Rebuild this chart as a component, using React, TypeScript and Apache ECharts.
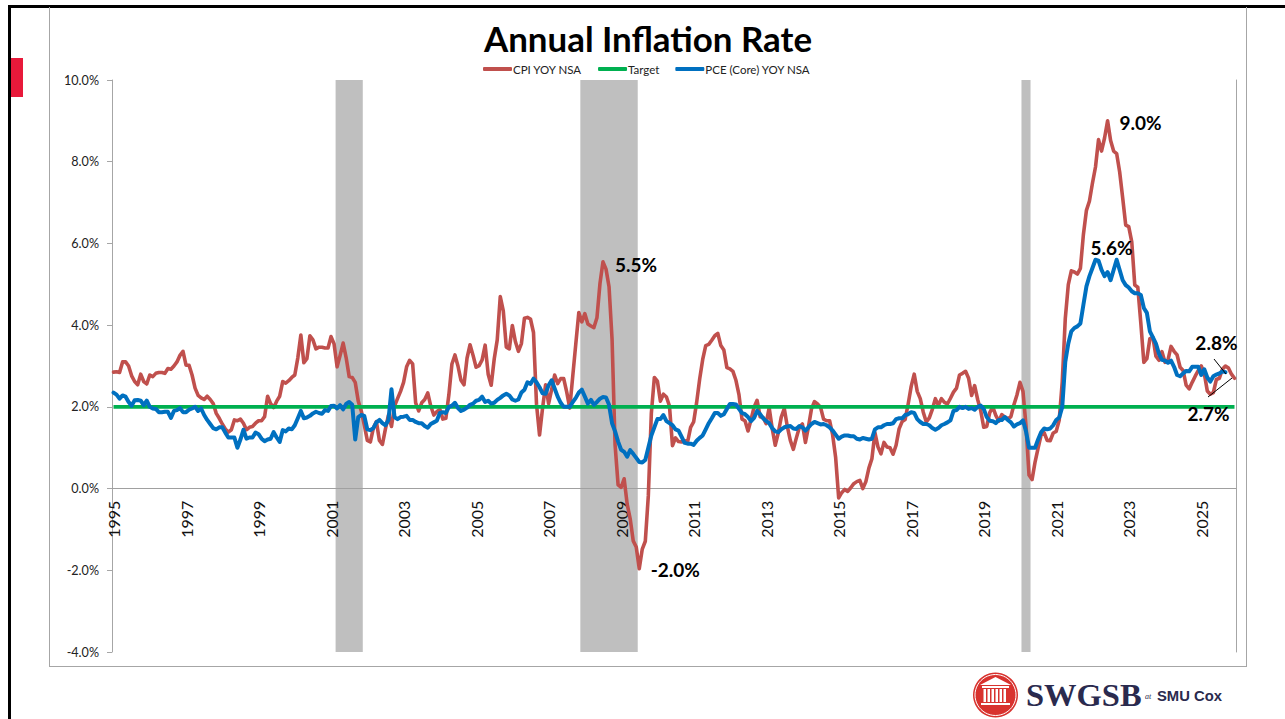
import React, { useEffect, useRef } from "react";
import * as echarts from "echarts";

const startYear = 1995;
const yearCount = 31;
const monthNames = ["01", "02", "03", "04", "05", "06", "07", "08", "09", "10", "11", "12"];
const categories: string[] = [];
for (let y = 0; y < yearCount; y++) for (const m of monthNames) categories.push(`${startYear + y}-${m}`);

const cpiYoy = [
  2.85, 2.86, 2.84, 3.1, 3.1, 3.0, 2.76, 2.62, 2.54, 2.8, 2.62, 2.56,
  2.78, 2.74, 2.82, 2.84, 2.84, 2.82, 2.94, 2.92, 3.0, 3.1, 3.26, 3.36,
  3.02, 3.02, 2.78, 2.46, 2.28, 2.22, 2.18, 2.26, 2.18, 2.08, 1.84, 1.72,
  1.58, 1.46, 1.38, 1.44, 1.68, 1.66, 1.7, 1.6, 1.44, 1.5, 1.52, 1.6,
  1.66, 1.66, 1.76, 2.26, 2.08, 1.98, 2.14, 2.26, 2.62, 2.58, 2.64, 2.72,
  2.78, 3.2, 3.76, 3.08, 3.18, 3.74, 3.64, 3.42, 3.46, 3.46, 3.44, 3.44,
  3.72, 3.54, 2.98, 3.26, 3.56, 3.2, 2.74, 2.72, 2.6, 2.14, 1.9, 1.55,
  1.18, 1.14, 1.48, 1.64, 1.18, 1.08, 1.46, 1.8, 1.52, 2.02, 2.2, 2.38,
  2.6, 2.98, 3.14, 3.05, 2.1, 1.9, 2.1, 2.18, 2.34, 2.02, 1.8, 1.88,
  1.94, 1.7, 1.72, 2.3, 3.05, 3.27, 3.0, 2.65, 2.54, 3.19, 3.52, 3.26,
  2.97, 3.01, 3.15, 3.51, 2.8, 2.53, 3.17, 3.64, 4.7, 4.35, 3.46, 3.42,
  3.99, 3.6, 3.36, 3.55, 4.17, 4.19, 4.15, 3.82, 2.06, 1.31, 1.97, 2.54,
  2.08, 2.42, 2.78, 2.57, 2.69, 2.69, 2.36, 1.97, 2.76, 3.54, 4.31, 4.08,
  4.28, 4.03, 3.98, 3.94, 4.18, 5.02, 5.55, 5.37, 4.94, 3.66, 1.07, 0.09,
  0.03, 0.24, -0.38, -0.74, -1.28, -1.43, -1.96, -1.48, -1.29, -0.18, 1.84, 2.72,
  2.63, 2.14, 2.31, 2.24, 2.02, 1.05, 1.24, 1.15, 1.14, 1.17, 1.14, 1.5,
  1.63, 2.11, 2.68, 3.16, 3.5, 3.53, 3.63, 3.74, 3.8, 3.5, 3.39, 2.96,
  2.93, 2.87, 2.65, 2.3, 1.7, 1.66, 1.41, 1.69, 1.99, 2.16, 1.76, 1.74,
  1.59, 1.98, 1.47, 1.06, 1.36, 1.75, 1.96, 1.52, 1.18, 0.96, 1.24, 1.5,
  1.58, 1.13, 1.51, 1.95, 2.13, 2.07, 1.99, 1.7, 1.66, 1.66, 1.32, 0.76,
  -0.23, -0.1, -0.02, -0.07, 0.02, 0.12, 0.17, 0.2, 0.0, 0.17, 0.5, 0.73,
  1.37, 1.02, 0.85, 1.13, 1.02, 1.0, 0.84, 1.06, 1.46, 1.64, 1.69, 2.07,
  2.5, 2.8, 2.38, 2.2, 1.87, 1.63, 1.73, 1.94, 2.2, 2.04, 2.2, 2.11,
  2.07, 2.21, 2.36, 2.46, 2.78, 2.82, 2.87, 2.7, 2.28, 2.52, 2.18, 1.91,
  1.5, 1.52, 1.86, 2.0, 1.79, 1.65, 1.81, 1.75, 1.71, 1.76, 2.05, 2.29,
  2.6, 2.38, 1.54, 0.33, 0.22, 0.65, 0.99, 1.31, 1.37, 1.18, 1.17, 1.36,
  1.4, 1.68, 2.62, 4.16, 4.99, 5.33, 5.3, 5.25, 5.39, 6.22, 6.81, 7.04,
  7.48, 7.87, 8.54, 8.26, 8.58, 9.0, 8.52, 8.26, 8.2, 7.75, 7.11, 6.45,
  6.41, 6.04, 4.98, 4.93, 4.05, 3.09, 3.18, 3.67, 3.7, 3.24, 3.14, 3.35,
  3.09, 3.15, 3.48, 3.36, 3.27, 2.97, 2.89, 2.53, 2.44, 2.6, 2.75, 2.89,
  3.0, 2.82, 2.39, 2.31, 2.35, 2.67, 2.7, 2.92, 3.0, 2.95, 2.8, 2.7,
];

const pceCoreYoy = [
  2.35, 2.3, 2.2, 2.28, 2.25, 2.12, 2.03, 2.16, 2.17, 2.15, 2.04, 2.15,
  2.0, 1.96, 1.95, 1.87, 1.87, 1.88, 1.88, 1.73, 1.9, 1.92, 1.97, 1.87,
  1.87, 1.93, 1.96, 2.0, 1.9, 1.96, 1.8, 1.68, 1.58, 1.48, 1.45, 1.5,
  1.5, 1.37, 1.25, 1.25, 1.25, 1.0, 1.2, 1.44, 1.22, 1.25, 1.25, 1.37,
  1.33, 1.22, 1.16, 1.2, 1.22, 1.38, 1.25, 1.14, 1.43, 1.4, 1.47, 1.45,
  1.55, 1.72, 1.9, 1.72, 1.74, 1.78, 1.84, 1.88, 1.85, 1.83, 1.92, 1.9,
  2.02, 2.03, 1.96, 2.04, 1.94, 2.07, 2.12, 2.05, 1.2, 1.75, 1.8, 1.78,
  1.45, 1.43, 1.48, 1.62, 1.68, 1.6, 1.55, 1.68, 2.43, 1.75, 1.7, 1.75,
  1.76, 1.78, 1.68, 1.68, 1.63, 1.6, 1.6, 1.53, 1.49, 1.58, 1.62, 1.66,
  1.85, 1.87, 1.85, 2.0, 2.03, 2.1, 1.97, 1.9, 1.93, 1.98, 2.05, 2.08,
  2.15, 2.17, 2.25, 2.12, 2.15, 2.08, 2.1, 2.17, 2.22, 2.28, 2.32, 2.28,
  2.18, 2.15, 2.18, 2.35, 2.42, 2.6, 2.56, 2.69, 2.6, 2.48, 2.33, 2.32,
  2.53, 2.65, 2.45, 2.25, 2.1, 2.0, 2.0, 2.0, 2.12, 2.22, 2.35, 2.42,
  2.25, 2.08, 2.17, 2.05, 2.12, 2.2, 2.24, 2.23, 2.05, 1.6, 1.4, 1.15,
  0.95, 0.9, 0.78, 0.94, 0.85, 0.75, 0.65, 0.64, 0.7, 1.0, 1.3, 1.5,
  1.7, 1.7, 1.8, 1.65, 1.6, 1.55, 1.45, 1.42, 1.27, 1.12, 1.1, 1.1,
  1.07, 1.17, 1.24, 1.3, 1.45, 1.6, 1.72, 1.85, 1.85, 1.78, 1.82, 1.95,
  2.07, 2.07, 2.06, 1.95, 1.85, 1.82, 1.75, 1.65, 1.73, 1.9, 1.82, 1.72,
  1.65, 1.6, 1.48, 1.4, 1.38, 1.45, 1.5, 1.52, 1.53, 1.47, 1.46, 1.53,
  1.5, 1.42, 1.5, 1.58, 1.63, 1.6, 1.57, 1.58, 1.55, 1.5, 1.42, 1.32,
  1.22, 1.27, 1.3, 1.3, 1.28, 1.28, 1.22, 1.2, 1.24, 1.22, 1.2, 1.22,
  1.45, 1.5, 1.5, 1.55, 1.58, 1.58, 1.6, 1.7, 1.72, 1.72, 1.8, 1.82,
  1.87, 1.85, 1.7, 1.63, 1.58, 1.58, 1.55, 1.48, 1.44, 1.48, 1.55, 1.58,
  1.62, 1.67, 1.9, 1.92, 2.0, 1.97, 2.0, 1.95, 1.97, 1.93, 2.0, 2.03,
  1.95, 1.75, 1.66, 1.65, 1.6, 1.68, 1.68, 1.75, 1.68, 1.62, 1.52, 1.57,
  1.6, 1.67, 1.4, 1.0, 1.0, 1.0, 1.2, 1.38, 1.47, 1.45, 1.47, 1.55,
  1.68, 1.74, 2.0, 3.1, 3.55, 3.85, 3.93, 3.97, 4.04, 4.5, 4.95, 5.2,
  5.4, 5.6, 5.58, 5.35, 5.2, 5.3, 5.1, 5.35, 5.6, 5.35, 5.1, 4.98,
  4.92, 4.83, 4.78, 4.78, 4.74, 4.42, 4.3, 3.85, 3.7, 3.55, 3.3, 3.15,
  3.13, 3.08, 3.13, 2.98, 2.78, 2.75, 2.82, 2.88, 2.87, 2.98, 2.98, 2.98,
  2.78, 2.92, 2.72, 2.62, 2.75, 2.79, 2.82, 2.87, 2.85,
];

const targetRate = 2;
const recessions = [
  ["2001-03", "2001-11"],
  ["2007-12", "2009-06"],
  ["2020-02", "2020-04"],
];
const yTickMin = -4;
const yTickMax = 10;
const yTickStep = 2;

const callouts = [
  { series: "cpi", month: "2022-06", value: 9.0, text: "9.0%", dx: 33, dy: 2 },
  { series: "cpi", month: "2008-07", value: 5.55, text: "5.5%", dx: 33, dy: 3 },
  { series: "cpi", month: "2009-07", value: -1.96, text: "-2.0%", dx: 36, dy: 1 },
  { series: "cpi", month: "2025-12", value: 2.7, text: "2.7%", dx: -26, dy: 35 },
  { series: "pce", month: "2022-02", value: 5.6, text: "5.6%", dx: 16, dy: -12 },
  { series: "pce", month: "2025-09", value: 2.85, text: "2.8%", dx: -9, dy: -30 },
];

const RED = "#C0504D";
const GREEN = "#00B050";
const BLUE = "#0070C0";
const AXIS = "#A6A6A6";
const FONT = "Lato, 'Liberation Sans', Arial, sans-serif";
const NAVY = "#2A2A4E";
const LOGO_RED = "#D8322E";

function markFor(name: string) {
  return {
    symbol: "circle",
    symbolSize: 1,
    itemStyle: { color: "rgba(0,0,0,0)" },
    silent: true,
    data: callouts
      .filter((c) => c.series === name)
      .map((c) => ({
        coord: [c.month, c.value],
        label: {
          show: true,
          position: "inside",
          formatter: c.text,
          offset: [c.dx, c.dy],
          color: "#000",
          fontFamily: FONT,
          fontWeight: "bold",
          fontSize: 19,
        },
      })),
  };
}

function frameGraphics() {
  const gray = { stroke: AXIS, lineWidth: 1 };
  const w = (x: number, y: number, width: number, height: number, fill = "#fff") => ({
    type: "rect", shape: { x, y, width, height }, style: { fill }, silent: true,
  });
  return [
    { type: "line", shape: { x1: 49.5, y1: 7, x2: 49.5, y2: 666.5 }, style: gray, silent: true, z: 1 },
    { type: "line", shape: { x1: 49, y1: 666.5, x2: 1247, y2: 666.5 }, style: gray, silent: true, z: 1 },
    { type: "line", shape: { x1: 1246.5, y1: 7, x2: 1246.5, y2: 666.5 }, style: gray, silent: true, z: 1 },
    { type: "rect", shape: { x: 8, y: 5, width: 1277, height: 3 }, style: { fill: "#000" }, silent: true },
    { type: "rect", shape: { x: 8, y: 5, width: 3, height: 714 }, style: { fill: "#000" }, silent: true },
    { type: "rect", shape: { x: 11, y: 58, width: 12, height: 39 }, style: { fill: "#E8193A" }, silent: true },
    { type: "line", shape: { x1: 1214, y1: 359, x2: 1226, y2: 374 }, style: { stroke: "#000", lineWidth: 1 }, silent: true, z: 20 },
    { type: "line", shape: { x1: 1208, y1: 397, x2: 1232, y2: 378 }, style: { stroke: "#000", lineWidth: 1 }, silent: true, z: 20 },
    // logo
    { type: "circle", shape: { cx: 995.5, cy: 695, r: 22.5 }, style: { fill: LOGO_RED }, silent: true },
    { type: "circle", shape: { cx: 995.5, cy: 695, r: 20.5 }, style: { fill: "none", stroke: "#fff", lineWidth: 1 }, silent: true },
    { type: "polygon", shape: { points: [[980, 685], [995.5, 677], [1011, 685]] }, style: { fill: "#fff" }, silent: true },
    w(982, 686, 27, 2),
    w(983.5, 689, 2.5, 13), w(987.5, 689, 2.5, 13), w(991.5, 689, 2.5, 13),
    w(995.5, 689, 2.5, 13), w(999.5, 689, 2.5, 13), w(1003.5, 689, 2.5, 13),
    w(981, 703, 29, 2),
    {
      type: "text", x: 1026, y: 695,
      style: { text: "SWGSB", fill: NAVY, font: "bold 32.5px 'Liberation Serif', serif", textVerticalAlign: "middle" },
      silent: true,
    },
    {
      type: "text", x: 1145, y: 696,
      style: { text: "at", fill: NAVY, font: "italic 8px 'Liberation Serif', serif", textVerticalAlign: "middle" },
      silent: true,
    },
    {
      type: "text", x: 1157, y: 696,
      style: { text: "SMU Cox", fill: NAVY, font: "bold 14.8px 'Liberation Sans', sans-serif", textVerticalAlign: "middle" },
      silent: true,
    },
  ];
}

export default function App() {
  const ref = useRef<HTMLDivElement>(null);
  useEffect(() => {
    const chart = echarts.init(ref.current!, undefined, { renderer: "svg" });
    const recessionSpans = recessions.map(([a, b]) => [categories.indexOf(a), categories.indexOf(b)]);
    chart.setOption({
      animation: false,
      backgroundColor: "#fff",
      title: {
        text: "Annual Inflation Rate",
        left: 648,
        top: 18,
        padding: 0,
        textAlign: "center",
        textStyle: { fontFamily: FONT, fontWeight: "bold", fontSize: 34.9, color: "#000", lineHeight: 40 },
      },
      legend: {
        left: 483,
        top: 63,
        data: ["CPI YOY NSA", "Target", "PCE (Core) YOY NSA"],
        itemWidth: 29,
        itemHeight: 4,
        itemGap: 16,
        padding: 0,
        icon: "roundRect",
        selectedMode: false,
        textStyle: { fontFamily: FONT, fontSize: 11.5, color: "#222", padding: [0, 0, 0, -4] },
      },
      grid: { left: 112, right: 49, top: 80, bottom: 67, containLabel: false },
      xAxis: {
        type: "category",
        data: categories,
        boundaryGap: true,
        position: "bottom",
        offset: -163.4,
        z: 2,
        axisLine: { show: true, onZero: false, lineStyle: { color: "#A0A0A0", width: 1 } },
        axisTick: { show: false },
        axisLabel: {
          interval: 23,
          rotate: 90,
          margin: 12,
          fontFamily: FONT,
          fontSize: 16,
          color: "#111",
          formatter: (v: string) => v.slice(0, 4),
        },
        splitLine: { show: false },
      },
      yAxis: [
        {
          type: "value",
          min: yTickMin,
          max: yTickMax,
          interval: yTickStep,
          z: 2,
          axisLine: { show: true, lineStyle: { color: AXIS, width: 1 } },
          axisTick: { show: true, length: 5, lineStyle: { color: AXIS } },
          axisLabel: {
            margin: 13,
            fontFamily: FONT,
            fontSize: 12.6,
            color: "#222",
            formatter: (v: number) => `${v.toFixed(1)}%`,
          },
          splitLine: { show: false },
        },
        {
          type: "value",
          min: 0,
          max: 1,
          position: "right",
          axisLine: { show: true, lineStyle: { color: AXIS, width: 1 } },
          axisTick: { show: false },
          axisLabel: { show: false },
          splitLine: { show: false },
        },
      ],
      series: [
        {
          name: "Recession",
          type: "custom",
          yAxisIndex: 1,
          data: recessionSpans,
          encode: { x: [0, 1] },
          silent: true,
          z: 1,
          renderItem: (_: any, api: any) => {
            const band = api.size([1, 0])[0];
            const a = api.coord([api.value(0), 1]);
            const b = api.coord([api.value(1), 0]);
            return {
              type: "rect",
              shape: { x: a[0] - band / 2, y: a[1], width: b[0] - a[0] + band, height: b[1] - a[1] },
              style: { fill: "#BFBFBF" },
            };
          },
        },
        {
          name: "CPI YOY NSA",
          type: "line",
          data: cpiYoy,
          showSymbol: false,
          symbol: "none",
          lineStyle: { color: RED, width: 3.6, join: "round", cap: "round" },
          itemStyle: { color: RED },
          markPoint: markFor("cpi"),
          z: 3,
        },
        {
          name: "Target",
          type: "line",
          data: categories.map(() => targetRate),
          showSymbol: false,
          symbol: "none",
          lineStyle: { color: GREEN, width: 3.8 },
          itemStyle: { color: GREEN },
          z: 4,
        },
        {
          name: "PCE (Core) YOY NSA",
          type: "line",
          data: pceCoreYoy,
          showSymbol: false,
          symbol: "none",
          lineStyle: { color: BLUE, width: 4, join: "round", cap: "round" },
          itemStyle: { color: BLUE },
          markPoint: markFor("pce"),
          z: 5,
        },
      ],
      graphic: frameGraphics(),
    });
    return () => chart.dispose();
  }, []);
  return (
    <div style={{ position: "absolute", left: 0, top: 0, width: 1285, height: 719, overflow: "hidden", background: "#fff" }}>
      <div ref={ref} style={{ width: 1285, height: 719 }} />
    </div>
  );
}
